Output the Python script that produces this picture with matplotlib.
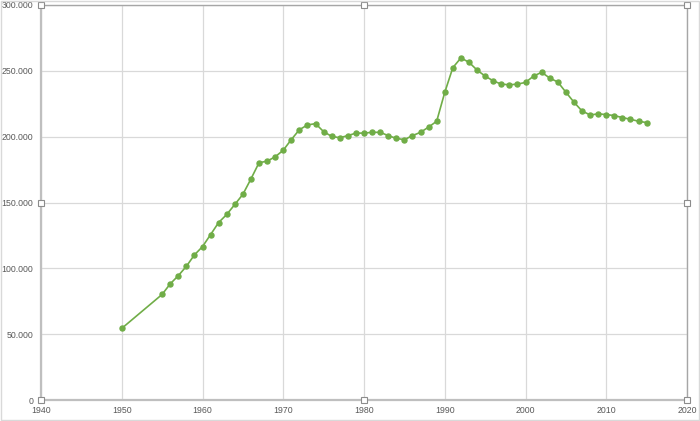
import matplotlib.pyplot as plt
from matplotlib.ticker import FuncFormatter, MultipleLocator

years = [1950, 1955, 1956, 1957, 1958, 1959, 1960, 1961, 1962, 1963, 1964,
         1965, 1966, 1967, 1968, 1969, 1970, 1971, 1972, 1973, 1974, 1975,
         1976, 1977, 1978, 1979, 1980, 1981, 1982, 1983, 1984, 1985, 1986,
         1987, 1988, 1989, 1990, 1991, 1992, 1993, 1994, 1995, 1996, 1997,
         1998, 1999, 2000, 2001, 2002, 2003, 2004, 2005, 2006, 2007, 2008,
         2009, 2010, 2011, 2012, 2013, 2014, 2015]
population = [54400, 80200, 88200, 94400, 101500, 110200, 116500, 125600,
              134800, 140900, 148500, 156200, 167900, 180200, 181400, 184700,
              189700, 197800, 205300, 208900, 209900, 203800, 200200, 199200,
              200800, 202700, 202700, 203300, 203300, 200800, 198700, 197700,
              200800, 203300, 207300, 211700, 233600, 252400, 259800, 256500,
              250600, 246000, 242400, 239900, 239400, 239900, 241200, 246000,
              248900, 244500, 241500, 233800, 226200, 219500, 216500, 217300,
              216800, 216000, 214500, 213200, 211700, 210700]

green = '#70AD47'
grid_c = '#D9D9D9'
text_c = '#595959'

fig = plt.figure(figsize=(7, 4.21), dpi=100)
ax = fig.add_axes([41 / 700, 21 / 421, 646 / 700, 395 / 421])

ax.plot(years, population, color=green, lw=1.2, marker='o', markersize=3.6,
        markerfacecolor=green, markeredgecolor=green, zorder=3)

ax.set_xlim(1940, 2020)
ax.set_ylim(0, 300000)
ax.xaxis.set_major_locator(MultipleLocator(10))
ax.yaxis.set_major_locator(MultipleLocator(50000))
ax.yaxis.set_major_formatter(
    FuncFormatter(lambda v, p: '0' if v == 0 else f'{int(v):,}'.replace(',', '.')))
ax.grid(True, color=grid_c, lw=0.9)
ax.set_axisbelow(True)
ax.tick_params(length=0, labelsize=6.3, colors=text_c)
ax.tick_params(axis='y', pad=5.5)
ax.tick_params(axis='x', pad=4)
for lab in ax.get_xticklabels() + ax.get_yticklabels():
    lab.set_fontfamily('Liberation Sans')

for side in ['left', 'bottom']:
    ax.spines[side].set_color('#BFBFBF')
    ax.spines[side].set_linewidth(1.6)
for side in ['top', 'right']:
    ax.spines[side].set_color('#A6A6A6')
    ax.spines[side].set_linewidth(1.0)

# selection handles of the plot area
for hx, hy in [(0, 0), (0.5, 0), (1, 0), (0, 0.5), (1, 0.5), (0, 1), (0.5, 1), (1, 1)]:
    ax.plot(hx, hy, marker='s', markersize=4, markerfacecolor='white',
            markeredgecolor='#8C8C8C', markeredgewidth=0.8,
            transform=ax.transAxes, clip_on=False, zorder=5)

# chart area border
fig.patches.append(plt.Rectangle((0.002, 0.002), 0.996, 0.996, transform=fig.transFigure,
                                 fill=False, edgecolor='#D9D9D9', lw=1))

fig.savefig('out.png', dpi=100)
